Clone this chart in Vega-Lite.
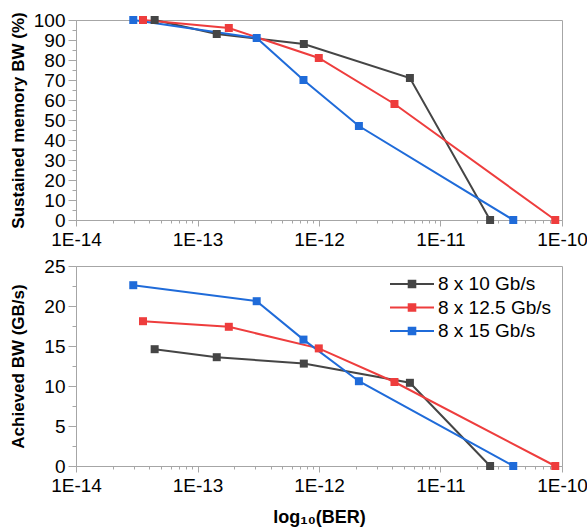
{
  "$schema": "https://vega.github.io/schema/vega-lite/v6.json",
  "padding": {"left": 8, "top": 10, "right": 5, "bottom": 2},
  "config": {
    "font": "Liberation Sans",
    "view": {"stroke": "#a6a6a6", "strokeWidth": 1},
    "axis": {"domainColor": "#a6a6a6", "tickColor": "#a6a6a6", "labelColor": "#000000", "titleColor": "#000000", "labelFontSize": 19, "labelFont": "Liberation Sans", "titleFont": "Liberation Sans", "titleFontWeight": "bold", "grid": false}
  },
  "datasets": {
    "d": [
      {"series": "8 x 10 Gb/s", "ber": 4.44e-14, "pct": 100, "bw": 14.6},
      {"series": "8 x 10 Gb/s", "ber": 1.44e-13, "pct": 93, "bw": 13.6},
      {"series": "8 x 10 Gb/s", "ber": 7.5e-13, "pct": 88, "bw": 12.8},
      {"series": "8 x 10 Gb/s", "ber": 5.6e-12, "pct": 71, "bw": 10.4},
      {"series": "8 x 10 Gb/s", "ber": 2.56e-11, "pct": 0, "bw": 0},
      {"series": "8 x 12.5 Gb/s", "ber": 3.56e-14, "pct": 100, "bw": 18.1},
      {"series": "8 x 12.5 Gb/s", "ber": 1.81e-13, "pct": 96, "bw": 17.4},
      {"series": "8 x 12.5 Gb/s", "ber": 9.96e-13, "pct": 81, "bw": 14.7},
      {"series": "8 x 12.5 Gb/s", "ber": 4.18e-12, "pct": 58, "bw": 10.5},
      {"series": "8 x 12.5 Gb/s", "ber": 8.8e-11, "pct": 0, "bw": 0},
      {"series": "8 x 15 Gb/s", "ber": 2.96e-14, "pct": 100, "bw": 22.6},
      {"series": "8 x 15 Gb/s", "ber": 3.07e-13, "pct": 91, "bw": 20.6},
      {"series": "8 x 15 Gb/s", "ber": 7.45e-13, "pct": 70, "bw": 15.8},
      {"series": "8 x 15 Gb/s", "ber": 2.13e-12, "pct": 47, "bw": 10.6},
      {"series": "8 x 15 Gb/s", "ber": 3.97e-11, "pct": 0, "bw": 0}
    ]
  },
  "spacing": 6,
  "resolve": {"legend": {"color": "independent"}},
  "vconcat": [
    {
      "width": 486,
      "height": 200,
      "data": {"name": "d"},
      "encoding": {
        "x": {"field": "ber", "type": "quantitative",
          "scale": {"type": "log", "domain": [1e-14, 1e-10], "nice": false},
          "axis": {"title": null, "labelPadding": 4, "labelFlush": false, "labelOverlap": false,
            "values": [1e-14, 2e-14, 3e-14, 4e-14, 5e-14, 6e-14, 7e-14, 8e-14, 9e-14, 1e-13, 2e-13, 3e-13, 4e-13, 5e-13, 6e-13, 7e-13, 8e-13, 9e-13, 1e-12, 2e-12, 3e-12, 4e-12, 5e-12, 6e-12, 7e-12, 8e-12, 9e-12, 1e-11, 2e-11, 3e-11, 4e-11, 5e-11, 6e-11, 7e-11, 8e-11, 9e-11, 1e-10],
            "labelExpr": "abs(log(datum.value)/LN10 - round(log(datum.value)/LN10)) < 0.001 ? '1E' + round(log(datum.value)/LN10) : ''",
            "tickSize": {"condition": {"test": "abs(log(datum.value)/LN10 - round(log(datum.value)/LN10)) < 0.001", "value": 6}, "value": 3}}},
        "y": {"field": "pct", "type": "quantitative",
          "scale": {"domain": [0, 100], "nice": false},
          "axis": {"title": "Sustained memory BW (%)", "titleFontSize": 17, "titlePadding": 6, "labelPadding": 3,
            "values": [0, 5, 10, 15, 20, 25, 30, 35, 40, 45, 50, 55, 60, 65, 70, 75, 80, 85, 90, 95, 100],
            "labelExpr": "datum.value % 10 == 0 ? format(datum.value, 'd') : ''",
            "labelOverlap": false,
            "tickSize": {"condition": {"test": "datum.value % 10 == 0", "value": 8}, "value": 4}}},
        "color": {"field": "series", "type": "nominal",
          "scale": {"domain": ["8 x 10 Gb/s", "8 x 12.5 Gb/s", "8 x 15 Gb/s"], "range": ["#454545", "#ee3d3d", "#1f6bd9"]},
          "legend": null}
      },
      "layer": [
        {"mark": {"type": "line", "strokeWidth": 2}},
        {"mark": {"type": "square", "size": 64, "opacity": 1, "filled": true}}
      ]
    },
    {
      "width": 486,
      "height": 200,
      "data": {"name": "d"},
      "encoding": {
        "x": {"field": "ber", "type": "quantitative",
          "scale": {"type": "log", "domain": [1e-14, 1e-10], "nice": false},
          "axis": {"title": "log₁₀(BER)", "titleFontSize": 18, "titlePadding": 13, "labelPadding": 4, "labelFlush": false, "labelOverlap": false,
            "values": [1e-14, 2e-14, 3e-14, 4e-14, 5e-14, 6e-14, 7e-14, 8e-14, 9e-14, 1e-13, 2e-13, 3e-13, 4e-13, 5e-13, 6e-13, 7e-13, 8e-13, 9e-13, 1e-12, 2e-12, 3e-12, 4e-12, 5e-12, 6e-12, 7e-12, 8e-12, 9e-12, 1e-11, 2e-11, 3e-11, 4e-11, 5e-11, 6e-11, 7e-11, 8e-11, 9e-11, 1e-10],
            "labelExpr": "abs(log(datum.value)/LN10 - round(log(datum.value)/LN10)) < 0.001 ? '1E' + round(log(datum.value)/LN10) : ''",
            "tickSize": {"condition": {"test": "abs(log(datum.value)/LN10 - round(log(datum.value)/LN10)) < 0.001", "value": 6}, "value": 3}}},
        "y": {"field": "bw", "type": "quantitative",
          "scale": {"domain": [0, 25], "nice": false},
          "axis": {"title": "Achieved BW (GB/s)", "titleFontSize": 17, "titlePadding": 16, "labelPadding": 3,
            "values": [0, 2.5, 5, 7.5, 10, 12.5, 15, 17.5, 20, 22.5, 25],
            "labelExpr": "datum.value % 5 == 0 ? format(datum.value, 'd') : ''",
            "labelOverlap": false,
            "tickSize": {"condition": {"test": "datum.value % 5 == 0", "value": 8}, "value": 4}}},
        "color": {"field": "series", "type": "nominal",
          "scale": {"domain": ["8 x 10 Gb/s", "8 x 12.5 Gb/s", "8 x 15 Gb/s"], "range": ["#454545", "#ee3d3d", "#1f6bd9"]}}
      },
      "layer": [
        {"mark": {"type": "line", "strokeWidth": 2},
         "encoding": {"color": {"field": "series", "type": "nominal",
           "legend": {"orient": "none", "legendX": 313, "legendY": 6, "title": null, "labelFontSize": 19, "labelColor": "#000000", "labelFont": "Liberation Sans",
             "symbolType": "M-1,0L3,0M0.7,-0.3L1.3,-0.3L1.3,0.3L0.7,0.3Z", "symbolSize": 484, "symbolStrokeWidth": 2, "labelOffset": 25, "rowPadding": 1.5, "padding": 0,
             "encode": {"symbols": {"update": {"fill": {"scale": "color", "field": "value"}, "stroke": {"scale": "color", "field": "value"}, "opacity": {"value": 1}}}}}}}},
        {"mark": {"type": "square", "size": 64, "opacity": 1, "filled": true}, "encoding": {"color": {"field": "series", "type": "nominal", "legend": null}}}
      ]
    }
  ]
}
